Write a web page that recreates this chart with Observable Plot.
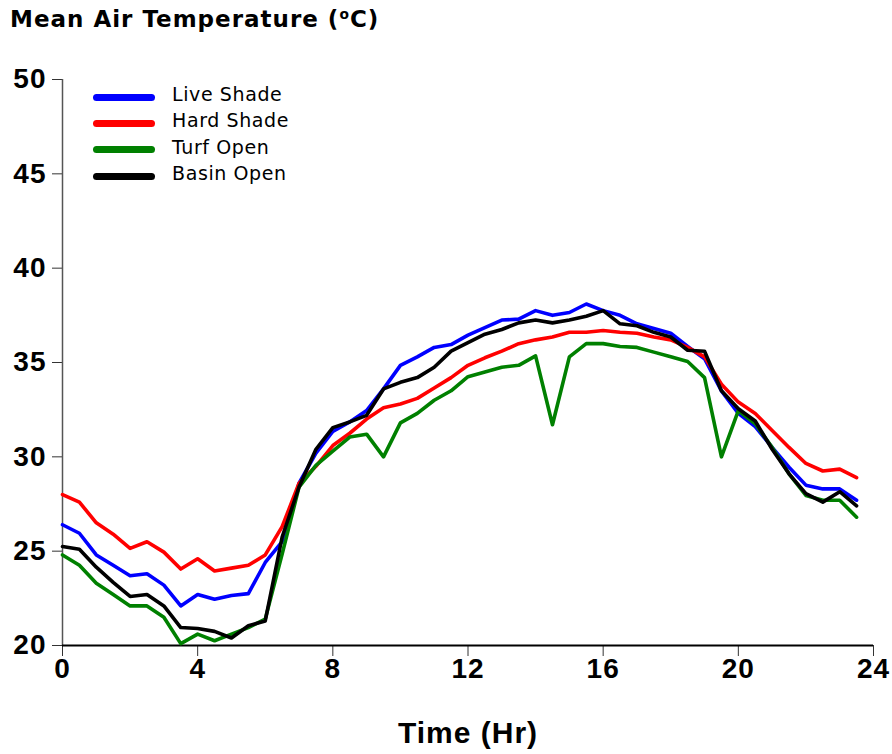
<!DOCTYPE html>
<html><head><meta charset="utf-8">
<script src="https://cdn.jsdelivr.net/npm/d3@7"></script>
<script src="https://cdn.jsdelivr.net/npm/@observablehq/plot@0.6"></script>
<style>
body{margin:0;background:#fff;}
#wrap{position:relative;width:892px;height:754px;background:#fff;}
#title{position:absolute;left:10px;top:6px;font:bold 23px "DejaVu Sans";letter-spacing:1px;color:#000;white-space:nowrap;}
#title sup{font-size:0.6em;vertical-align:0.6em;line-height:0;}
#legend{position:absolute;left:93px;top:84px;font:19px "DejaVu Sans";letter-spacing:0.6px;color:#000;}
.row{display:flex;align-items:center;height:26.3px;}
.sw{width:62px;height:7px;border-radius:3.5px;margin-right:17px;}
.lab{position:relative;top:-3px;white-space:nowrap;}
#chart{position:absolute;left:0;top:40px;}
</style></head>
<body>
<div id="wrap">
  <div id="title">Mean Air Temperature (<sup>o</sup>C)</div>
  <div id="chart"></div>
  <div id="legend"></div>
</div>
<script>
const series = ["Live Shade", "Hard Shade", "Turf Open", "Basin Open"];
const colors = ["#0000ff", "#ff0000", "#008000", "#000000"];
const hours = [0,0.5,1,1.5,2,2.5,3,3.5,4,4.5,5,5.5,6,6.5,7,7.5,8,8.5,9,9.5,10,10.5,11,11.5,
               12,12.5,13,13.5,14,14.5,15,15.5,16,16.5,17,17.5,18,18.5,19,19.5,20,20.5,21,21.5,22,22.5,23,23.5];
const liveShade = [26.4,25.95,24.8,24.25,23.7,23.8,23.2,22.1,22.7,22.45,22.65,22.75,24.4,25.5,28.6,30.2,
                   31.35,31.85,32.45,33.6,34.85,35.3,35.8,35.95,36.45,36.85,37.25,37.3,37.75,37.5,37.65,38.1,
                   37.75,37.5,37.05,36.8,36.55,35.85,35.2,33.5,32.3,31.6,30.5,29.45,28.5,28.3,28.3,27.7];
const hardShade = [28.0,27.6,26.5,25.9,25.15,25.5,24.95,24.05,24.6,23.95,24.1,24.25,24.8,26.3,28.6,29.5,
                   30.6,31.25,32.0,32.6,32.8,33.1,33.65,34.2,34.85,35.25,35.6,36.0,36.2,36.35,36.6,36.6,
                   36.7,36.6,36.55,36.35,36.2,35.8,35.3,33.85,32.9,32.3,31.4,30.5,29.65,29.25,29.35,28.9];
const turfOpen  = [24.8,24.25,23.3,22.7,22.1,22.1,21.5,20.1,20.6,20.25,20.6,20.95,21.4,24.85,28.4,29.55,
                   30.3,31.05,31.2,30.0,31.8,32.3,33.0,33.5,34.25,34.5,34.75,34.85,35.35,31.7,35.3,36.0,
                   36.0,35.85,35.8,35.55,35.3,35.05,34.2,30.0,32.45,31.75,30.5,29.1,27.95,27.7,27.7,26.8];
const basinOpen = [25.25,25.1,24.15,23.35,22.6,22.7,22.1,20.95,20.9,20.75,20.4,21.05,21.3,25.75,28.4,30.4,
                   31.55,31.85,32.2,33.6,33.95,34.2,34.75,35.6,36.05,36.5,36.75,37.1,37.25,37.1,37.25,37.45,
                   37.75,37.05,36.95,36.6,36.35,35.65,35.6,33.5,32.55,31.9,30.4,29.1,28.05,27.6,28.15,27.4];
const values = [liveShade, hardShade, turfOpen, basinOpen];
const xTicks = [0,4,8,12,16,20,24];
const yTicks = [20,25,30,35,40,45,50];
const xLabel = "Time (Hr)";

const rows = [];
series.forEach((s, k) => values[k].forEach((v, i) => rows.push({hour: hours[i], temp: v, series: s})));

const font = "Liberation Sans, Arial, sans-serif";
const chart = Plot.plot({
  width: 892, height: 714,
  marginLeft: 62, marginRight: 19, marginTop: 39, marginBottom: 109,
  x: {domain: [0, 24]},
  y: {domain: [20, 50]},
  color: {domain: series, range: colors},
  style: {fontFamily: font, fontWeight: "bold", fontSize: "27px", letterSpacing: "1px", color: "#000", background: "#fff", overflow: "visible"},
  marks: [
    Plot.axisY({ticks: yTicks, tickSize: 10, tickPadding: 6, label: null, stroke: "#333", fill: "#000", fontSize: 28, fontWeight: "bold", fontFamily: font}),
    Plot.axisX({ticks: xTicks, tickSize: 11, tickPadding: 2, label: null, stroke: "#333", fill: "#000", fontSize: 28, fontWeight: "bold", fontFamily: font}),
    Plot.ruleX([0], {stroke: "#555", strokeWidth: 1.5}),
    Plot.ruleY([20], {stroke: "#000", strokeWidth: 2.2}),
    Plot.line(rows, {x: "hour", y: "temp", z: "series", stroke: "series", strokeWidth: 3.6}),
    Plot.text([xLabel], {frameAnchor: "bottom", dy: 88, lineAnchor: "middle", fontSize: 30, fontWeight: "bold", fontFamily: font, fill: "#000"})
  ]
});
document.getElementById("chart").appendChild(chart);

const legend = document.getElementById("legend");
series.forEach((s, k) => {
  const row = document.createElement("div");
  row.className = "row";
  row.innerHTML = `<span class="sw" style="background:${colors[k]}"></span><span class="lab">${s}</span>`;
  legend.appendChild(row);
});
</script>
</body></html>
